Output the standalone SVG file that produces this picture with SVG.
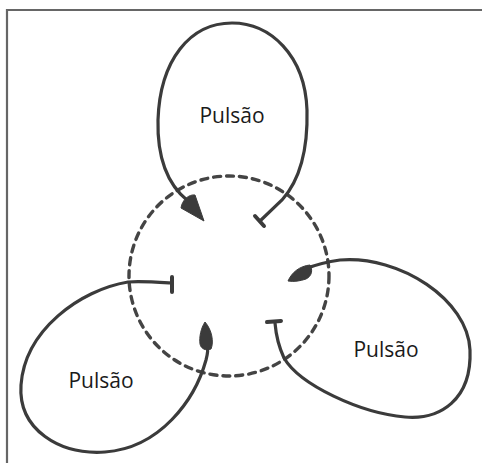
<svg xmlns="http://www.w3.org/2000/svg" width="482" height="463" viewBox="0 0 482 463">
<style>
.frame{fill:none;stroke:#666;stroke-width:2.2}
.dash{fill:none;stroke:#444;stroke-width:3.4;stroke-dasharray:7 6;stroke-linecap:round}
.loop{fill:none;stroke:#3b3b3b;stroke-width:3.2;stroke-linecap:round}
.head{fill:#3b3b3b;stroke:#3b3b3b;stroke-width:1}
.bar{fill:none;stroke:#3b3b3b;stroke-width:4;stroke-linecap:round}
.lbl{font-family:"Open Sans","Noto Sans","Liberation Sans",sans-serif;font-size:21px;fill:#1a1a1a;text-anchor:middle}
</style>
<rect width="482" height="463" fill="#fff"/>
<path class="frame" d="M7 463 V10 H482"/>
<g id="connectors">
<circle id="ring" class="dash" cx="229" cy="276" r="100"/>
</g>
<g id="loop-top">
<path class="loop" d="M260 221 L282 200 C300 180,308 150,307 110 C305 55,270 23,232 23 C190 23,160 60,158 120 C157 160,168 185,188 201"/>
<path class="head" d="M204 221 L181 208 C182 200,189 194,195 195 Z"/>
<path class="bar" d="M255 216 L264 226"/>
<text class="lbl" x="232" y="123">Pulsão</text>
</g>
<g id="loop-right">
<path class="loop" d="M305 269 C315 265,325 262,340 260 C400 255,468 300,470 350 C472 400,440 420,405 417 C360 413,300 385,284 358 C278 345,276 335,275 323"/>
<path class="head" d="M288 281 C292 272,300 266,310 265 C313 270,312 276,306 279 C300 281,294 282,288 281 Z"/>
<path class="bar" d="M267 322 L281 321"/>
<text class="lbl" x="386" y="357">Pulsão</text>
</g>
<g id="loop-left">
<path class="loop" d="M172 283 C155 282,140 281,128 282 C80 290,25 330,21 385 C18 430,60 455,105 452 C160 448,195 400,206 360 C208 352,208 350,207 345"/>
<path class="head" d="M205 322 C212 330,214 342,211 349 C206 351,201 349,200 344 C199 337,201 328,205 322 Z"/>
<path class="bar" d="M172 277 L172 292"/>
<text class="lbl" x="101" y="388">Pulsão</text>
</g>
</svg>
